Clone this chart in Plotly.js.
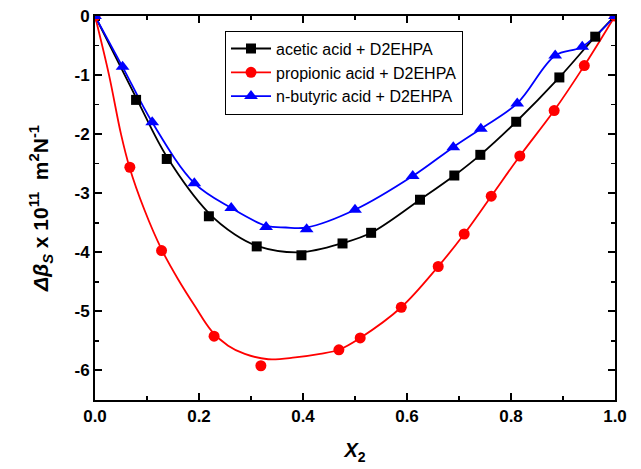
<!DOCTYPE html>
<html><head><meta charset="utf-8">
<script src="https://cdn.plot.ly/plotly-3.0.1.min.js"></script>
<style>html,body{margin:0;padding:0;background:#fff}#chart{width:641px;height:469px}</style>
</head><body><div id="chart"></div>
<script>
// measured points
const aceticX = [0, 0.079, 0.138, 0.219, 0.311, 0.397, 0.476, 0.531, 0.625, 0.691, 0.741, 0.810, 0.893, 0.962, 1];
const aceticY = [0, -1.42, -2.42, -3.39, -3.90, -4.05, -3.85, -3.67, -3.11, -2.70, -2.35, -1.79, -1.04, -0.35, 0];
const propX = [0, 0.067, 0.128, 0.229, 0.319, 0.469, 0.510, 0.589, 0.660, 0.710, 0.762, 0.817, 0.883, 0.941, 1];
const propY = [0, -2.56, -3.97, -5.42, -5.92, -5.65, -5.45, -4.93, -4.24, -3.69, -3.05, -2.37, -1.60, -0.84, 0];
const butX = [0, 0.053, 0.110, 0.191, 0.262, 0.329, 0.407, 0.500, 0.611, 0.689, 0.742, 0.812, 0.885, 0.937, 1];
const butY = [0, -0.86, -1.80, -2.83, -3.25, -3.57, -3.61, -3.28, -2.71, -2.22, -1.91, -1.48, -0.67, -0.52, 0];
// smooth curves
const aceticCurveX = [0, 0.079, 0.138, 0.218, 0.269, 0.311, 0.394, 0.478, 0.531, 0.625, 0.691, 0.741, 0.810, 0.893, 0.962, 1];
const aceticCurveY = [0, -1.38, -2.38, -3.33, -3.70, -3.89, -4.00, -3.84, -3.67, -3.11, -2.70, -2.35, -1.79, -1.04, -0.35, 0];
const propCurveX = [0, 0.027, 0.050, 0.066, 0.095, 0.128, 0.160, 0.192, 0.224, 0.256, 0.288, 0.333, 0.385, 0.433, 0.469, 0.510, 0.589, 0.660, 0.710, 0.762, 0.817, 0.883, 0.941, 1];
const propCurveY = [0, -1.00, -2.00, -2.55, -3.28, -3.95, -4.46, -4.91, -5.33, -5.58, -5.72, -5.81, -5.78, -5.72, -5.65, -5.45, -4.93, -4.24, -3.69, -3.05, -2.37, -1.60, -0.84, 0];
const butCurveX = [0, 0.053, 0.110, 0.191, 0.262, 0.329, 0.367, 0.407, 0.500, 0.611, 0.689, 0.742, 0.812, 0.885, 0.937, 1];
const butCurveY = [0, -0.86, -1.80, -2.83, -3.25, -3.55, -3.58, -3.58, -3.28, -2.71, -2.22, -1.91, -1.48, -0.67, -0.52, 0];
const names = ['acetic acid + D2EHPA', 'propionic acid + D2EHPA', 'n-butyric acid + D2EHPA'];
const yTickVals = [0, -1, -2, -3, -4, -5, -6];
const yTickText = ['0', '-1', '-2', '-3', '-4', '-5', '-6'];
const xTickVals = [0, 0.2, 0.4, 0.6, 0.8, 1.0];
const xTickText = ['0.0', '0.2', '0.4', '0.6', '0.8', '1.0'];

const series = [
  {x: aceticX, y: aceticY, cx: aceticCurveX, cy: aceticCurveY, name: names[0], color: '#000000', symbol: 'square', size: 10},
  {x: propX, y: propY, cx: propCurveX, cy: propCurveY, name: names[1], color: '#ff0000', symbol: 'circle', size: 11},
  {x: butX, y: butY, cx: butCurveX, cy: butCurveY, name: names[2], color: '#0000ff', symbol: 'triangle-up', size: 12}
];
// interleave nulls so the marker trace draws no connecting segments, but legend shows line + marker
function gapped(arr) { const out = []; arr.forEach(v => { out.push(v); out.push(null); }); return out; }
const traces = [];
series.forEach(s => {
  traces.push({
    x: s.cx, y: s.cy, type: 'scatter', mode: 'lines', showlegend: false, hoverinfo: 'skip',
    line: {color: s.color, width: 1.8, shape: 'spline', smoothing: 1}
  });
});
series.forEach(s => {
  traces.push({
    x: gapped(s.x), y: gapped(s.y), name: s.name, type: 'scatter', mode: 'lines+markers', connectgaps: false,
    line: {color: s.color, width: 1.8},
    marker: {color: s.color, symbol: s.symbol, size: s.size, line: {width: 0}}
  });
});

const axisFont = {family: 'Liberation Sans, Arial, sans-serif', size: 17, color: '#000', weight: 'bold'};
const layout = {
  width: 641, height: 469,
  margin: {l: 95, r: 26, t: 16, b: 68.5},
  paper_bgcolor: '#fff', plot_bgcolor: '#fff',
  showlegend: true,
  legend: {
    x: 0.25, y: 0.962, xanchor: 'left', yanchor: 'top',
    bgcolor: '#fff', bordercolor: '#000', borderwidth: 1,
    font: {family: 'Liberation Sans, Arial, sans-serif', size: 16, color: '#000'},
    itemwidth: 40, tracegroupgap: 0
  },
  xaxis: {
    range: [0, 1], tickvals: xTickVals, ticktext: xTickText,
    showline: true, linewidth: 2, linecolor: '#000', mirror: 'ticks',
    ticks: 'inside', ticklen: 7, tickwidth: 2, tickcolor: '#000',
    minor: {dtick: 0.1, ticks: 'inside', ticklen: 4, tickwidth: 1.5, tickcolor: '#000'},
    showgrid: false, zeroline: false, tickfont: axisFont,
    title: {text: '<i>X</i><sub>2</sub>', font: {family: 'Liberation Sans, Arial, sans-serif', size: 20, color: '#000', weight: 'bold'}, standoff: 18}
  },
  yaxis: {
    range: [-6.5, 0], tickvals: yTickVals, ticktext: yTickText,
    showline: true, linewidth: 2, linecolor: '#000', mirror: 'ticks',
    ticks: 'inside', ticklen: 7, tickwidth: 2, tickcolor: '#000',
    minor: {dtick: 0.5, ticks: 'inside', ticklen: 4, tickwidth: 1.5, tickcolor: '#000'},
    showgrid: false, zeroline: false, tickfont: axisFont,
    title: {text: '<i>Δβ<sub>S</sub></i> x 10<sup>11</sup>  m<sup>2</sup>N<sup>-1</sup>', font: {family: 'Liberation Sans, Arial, sans-serif', size: 21, color: '#000', weight: 'bold'}, standoff: 20}
  }
};
Plotly.newPlot('chart', traces, layout, {displayModeBar: false, staticPlot: true});
</script></body></html>
